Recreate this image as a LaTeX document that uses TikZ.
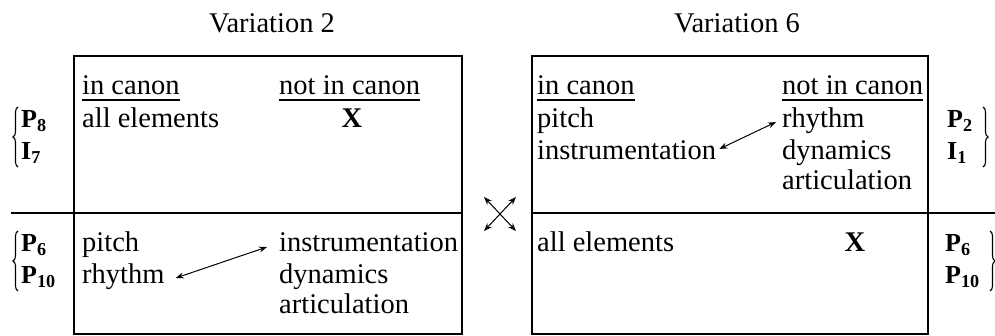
\documentclass[tikz,border=0pt]{standalone}
\usepackage{fontspec}
\setmainfont{Liberation Serif}
\usetikzlibrary{arrows.meta,decorations.pathreplacing}
\begin{document}
\begin{tikzpicture}[x=1pt,y=-1pt,
  txt/.style={inner sep=0pt, anchor=base west, font=\fontsize{28.5}{32}\selectfont},
  ctxt/.style={txt, anchor=base},
  lab/.style={txt, font=\fontsize{26}{30}\selectfont\bfseries},
  frame/.style={line width=1.3pt},
  uline/.style={line width=1.2pt},
  link/.style={line width=1pt, {Stealth[length=8pt,width=6pt]}-{Stealth[length=8pt,width=6pt]}},
  bracket/.style={decorate, decoration={brace, amplitude=5pt}, line width=1.1pt}]
\useasboundingbox (0,0) rectangle (995,336);

% titles
\node[ctxt] (t2) at (272,33) {Variation 2};
\node[ctxt] (t6) at (737,33) {Variation 6};

% frames
\draw[frame] (74,56) rectangle (462,334);
\draw[frame] (11,213) -- (462,213);
\draw[frame] (532,56) rectangle (928,334);
\draw[frame] (532,213) -- (995,213);

% Variation 2, upper half
\node[txt] (lin) at (82,95) {in canon};
\node[txt] (lnot) at (279,95) {not in canon};
\draw[uline] ([yshift=-5pt]lin.base west) -- ([yshift=-5pt]lin.base east);
\draw[uline] ([yshift=-5pt]lnot.base west) -- ([yshift=-5pt]lnot.base east);
\node[txt] (lall) at (82,128) {all elements};
\node[ctxt, font=\fontsize{28.5}{32}\selectfont\bfseries] (lx) at (352,128) {X};

% Variation 2, lower half
\node[txt] (lpitch) at (82,252) {pitch};
\node[txt] (lrhy) at (82,284) {rhythm};
\node[txt] (linst) at (279,252) {instrumentation};
\node[txt] (ldyn) at (279,284) {dynamics};
\node[txt] (lart) at (279,314) {articulation};
\draw[link] ([xshift=11pt,yshift=6pt]lrhy.base east) -- ([xshift=-12pt,yshift=5pt]linst.base west);

% Variation 6, upper half
\node[txt] (rin) at (537,95) {in canon};
\node[txt] (rnot) at (782,95) {not in canon};
\draw[uline] ([yshift=-5pt]rin.base west) -- ([yshift=-5pt]rin.base east);
\draw[uline] ([yshift=-5pt]rnot.base west) -- ([yshift=-5pt]rnot.base east);
\node[txt] (rpitch) at (537,128) {pitch};
\node[txt] (rinst) at (537,160) {instrumentation};
\node[txt] (rrhy) at (782,128) {rhythm};
\node[txt] (rdyn) at (782,160) {dynamics};
\node[txt] (rart) at (782,190) {articulation};
\draw[link] ([xshift=3pt,yshift=11pt]rinst.base east) -- ([xshift=-6pt,yshift=6pt]rrhy.base west);

% Variation 6, lower half
\node[txt] (rall) at (537,252) {all elements};
\node[ctxt, font=\fontsize{28.5}{32}\selectfont\bfseries] (rx) at (855,252) {X};

% crossing exchange arrows
\coordinate (cross) at (500,214);
\draw[link] ([shift={(-16,-17)}]cross) -- ([shift={(16,17)}]cross);
\draw[link] ([shift={(16,-17)}]cross) -- ([shift={(-16,17)}]cross);

% row forms, left
\node[lab] (p8) at (21,128) {P\textsubscript{8}};
\node[lab] (i7) at (21,160) {I\textsubscript{7}};
\draw[bracket] ([xshift=-3pt,yshift=-7pt]i7.base west) -- ([xshift=-3pt,yshift=21pt]p8.base west);
\node[lab] (p6l) at (21,252) {P\textsubscript{6}};
\node[lab] (p10l) at (21,284) {P\textsubscript{10}};
\draw[bracket] ([xshift=-3pt,yshift=-7pt]p10l.base west) -- ([xshift=-3pt,yshift=21pt]p6l.base west);

% row forms, right
\node[lab] (p2) at (947,128) {P\textsubscript{2}};
\node[lab] (i1) at (947,160) {I\textsubscript{1}};
\draw[bracket] ([xshift=36pt,yshift=21pt]p2.base west) -- ([xshift=36pt,yshift=-7pt]i1.base west);
\node[lab] (p6r) at (945,252) {P\textsubscript{6}};
\node[lab] (p10r) at (945,284) {P\textsubscript{10}};
\draw[bracket] ([xshift=45pt,yshift=21pt]p6r.base west) -- ([xshift=45pt,yshift=-7pt]p10r.base west);
\end{tikzpicture}
\end{document}
